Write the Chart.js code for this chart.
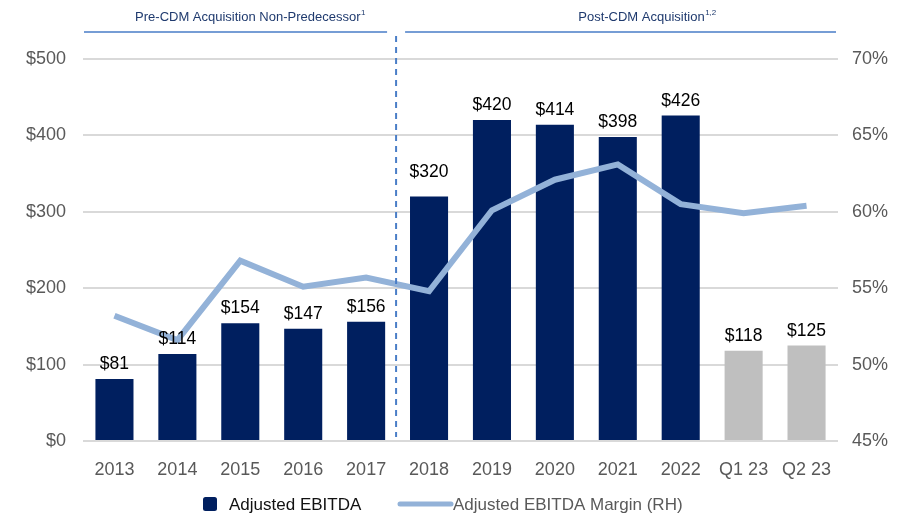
<!DOCTYPE html>
<html>
<head>
<meta charset="utf-8">
<script src="https://cdn.jsdelivr.net/npm/chart.js@4.4.1/dist/chart.umd.min.js"></script>
<style>
  html, body { margin: 0; padding: 0; background: #ffffff; }
  #wrap { width: 909px; height: 515px; position: relative; }
</style>
</head>
<body>
<div id="wrap"><canvas id="c" width="909" height="515"></canvas></div>
<script>
// ---- Data ----
const categories = ['2013', '2014', '2015', '2016', '2017', '2018', '2019', '2020', '2021', '2022', 'Q1 23', 'Q2 23'];
const adjustedEbitda = [81, 114, 154, 147, 156, 320, 420, 414, 398, 426, 118, 125];
const ebitdaMargin = [53.2, 51.6, 56.8, 55.1, 55.7, 54.8, 60.1, 62.1, 63.1, 60.5, 59.9, 60.4];
const leftTicks = [0, 100, 200, 300, 400, 500];
const rightTicks = [45, 50, 55, 60, 65, 70];
const periodLabels = ['Pre-CDM Acquisition Non-Predecessor', 'Post-CDM Acquisition'];
const periodNotes = ['1', '1,2'];
const seriesNames = ['Adjusted EBITDA', 'Adjusted EBITDA Margin (RH)'];
const lastPreIndex = 4; // 2017 is the last pre-acquisition year

// ---- Styles ----
const NAVY = '#001F5F';
const GRAY_BAR = '#BFBFBF';
const LINE_BLUE = '#93B2D8';
const HEADER_BLUE = '#4A7EC7';
const TICK_GRAY = '#595959';
const GRID = '#D9D9D9';
const FONT = '"Liberation Sans", Arial, sans-serif';

const isQuarter = (i) => categories[i].startsWith('Q');

const overlayPlugin = {
  id: 'overlay',
  afterDatasetsDraw(chart) {
    const ctx = chart.ctx;
    // data labels above bars (the 2018 label sits a little higher, clear of the line)
    const meta = chart.getDatasetMeta(1);
    ctx.save();
    ctx.font = '17.5px ' + FONT;
    ctx.fillStyle = '#000000';
    ctx.textAlign = 'center';
    ctx.textBaseline = 'alphabetic';
    meta.data.forEach((bar, i) => {
      const gap = (i === lastPreIndex + 1) ? 20 : 10;
      ctx.fillText('$' + adjustedEbitda[i], bar.x, bar.y - gap);
    });
    ctx.restore();
  },
  afterDraw(chart) {
    const ctx = chart.ctx;
    const x = chart.scales.x;
    const area = chart.chartArea;
    const divX = (x.getPixelForValue(lastPreIndex) + x.getPixelForValue(lastPreIndex + 1)) / 2 - 1.5;

    ctx.save();
    // dashed divider
    ctx.strokeStyle = HEADER_BLUE;
    ctx.lineWidth = 2;
    ctx.setLineDash([6, 5]);
    ctx.beginPath();
    ctx.moveTo(divX, 36);
    ctx.lineTo(divX, area.bottom - 4);
    ctx.stroke();
    ctx.setLineDash([]);

    // header lines
    ctx.lineWidth = 1.5;
    ctx.beginPath();
    ctx.moveTo(area.left + 1, 32);
    ctx.lineTo(divX - 9, 32);
    ctx.moveTo(divX + 9, 32);
    ctx.lineTo(area.right - 2, 32);
    ctx.stroke();

    // header texts
    const drawHeader = (text, note, cx) => {
      ctx.font = '13px ' + FONT;
      const w = ctx.measureText(text).width;
      ctx.font = '8px ' + FONT;
      const wn = ctx.measureText(note).width;
      const start = cx - (w + wn) / 2;
      ctx.fillStyle = '#1F3A6E';
      ctx.textBaseline = 'alphabetic';
      ctx.textAlign = 'left';
      ctx.font = '13px ' + FONT;
      ctx.fillText(text, start, 21);
      ctx.font = '8px ' + FONT;
      ctx.fillText(note, start + w + 0.5, 15);
    };
    drawHeader(periodLabels[0], periodNotes[0], 250);
    drawHeader(periodLabels[1], periodNotes[1], 647);

    // legend
    const ly = 504;
    ctx.fillStyle = NAVY;
    ctx.beginPath();
    if (ctx.roundRect) ctx.roundRect(203, ly - 7, 14, 14, 2.5); else ctx.rect(203, ly - 7, 14, 14);
    ctx.fill();
    ctx.font = '17px ' + FONT;
    ctx.textBaseline = 'middle';
    ctx.textAlign = 'left';
    ctx.fillStyle = '#111111';
    ctx.fillText(seriesNames[0], 229, ly + 1);

    ctx.strokeStyle = LINE_BLUE;
    ctx.lineWidth = 5;
    ctx.lineCap = 'round';
    ctx.beginPath();
    ctx.moveTo(400, ly);
    ctx.lineTo(451, ly);
    ctx.stroke();
    ctx.fillStyle = TICK_GRAY;
    ctx.fillText(seriesNames[1], 453, ly + 1);
    ctx.restore();
  }
};

new Chart(document.getElementById('c'), {
  data: {
    labels: categories,
    datasets: [
      {
        type: 'line',
        label: seriesNames[1],
        data: ebitdaMargin,
        yAxisID: 'y1',
        borderColor: LINE_BLUE,
        borderWidth: 6,
        pointRadius: 0,
        tension: 0,
        fill: false,
        order: 0
      },
      {
        type: 'bar',
        label: seriesNames[0],
        data: adjustedEbitda,
        yAxisID: 'y',
        backgroundColor: (c) => isQuarter(c.dataIndex) ? GRAY_BAR : NAVY,
        barPercentage: 0.605,
        categoryPercentage: 1,
        order: 1
      }
    ]
  },
  options: {
    responsive: false,
    animation: false,
    devicePixelRatio: 1,
    layout: { padding: { top: 59, bottom: 0, left: 0, right: 0 } },
    plugins: {
      legend: { display: false },
      tooltip: { enabled: false }
    },
    scales: {
      x: {
        grid: { display: false },
        border: { display: false },
        ticks: { color: TICK_GRAY, font: { family: FONT, size: 18 }, padding: 10, maxRotation: 0 },
        afterFit: (s) => { s.height = 74; }
      },
      y: {
        position: 'left',
        min: 0, max: 500,
        afterBuildTicks: (s) => { s.ticks = leftTicks.map(v => ({ value: v })); },
        grid: { color: GRID, lineWidth: 2, drawTicks: false },
        border: { display: false },
        ticks: { color: TICK_GRAY, font: { family: FONT, size: 18 }, padding: 17, callback: (v) => '$' + v },
        afterFit: (s) => { s.width = 83; }
      },
      y1: {
        position: 'right',
        min: 45, max: 70,
        afterBuildTicks: (s) => { s.ticks = rightTicks.map(v => ({ value: v })); },
        grid: { drawOnChartArea: false, drawTicks: false },
        border: { display: false },
        ticks: { color: TICK_GRAY, font: { family: FONT, size: 18 }, padding: 14, callback: (v) => v + '%' },
        afterFit: (s) => { s.width = 71; }
      }
    }
  },
  plugins: [overlayPlugin]
});
</script>
</body>
</html>
